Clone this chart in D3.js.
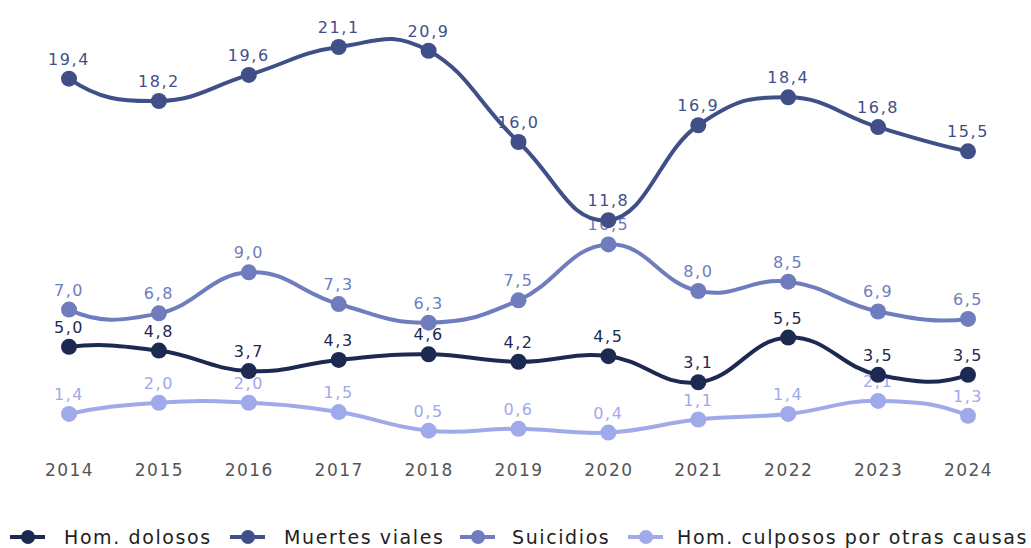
<!DOCTYPE html>
<html>
<head>
<meta charset="utf-8">
<script src="https://cdn.jsdelivr.net/npm/d3@7"></script>
<style>
  body { margin: 0; background: #fff; }
  svg text { font-family: "DejaVu Sans", "Open Sans", sans-serif; }
  .tick-label { fill: #555; font-size: 17px; letter-spacing: 1.5px; }
  .val-label { font-size: 16px; letter-spacing: 1.6px; }
  .legend-label { fill: #222; font-size: 19px; letter-spacing: 1.6px; }
</style>
</head>
<body>
<svg id="chart" width="1031" height="548"></svg>
<script>
var years = [2014, 2015, 2016, 2017, 2018, 2019, 2020, 2021, 2022, 2023, 2024];

var series_names = ["Hom. dolosos", "Muertes viales", "Suicidios", "Hom. culposos por otras causas"];
var dolosos   = [5.0, 4.8, 3.7, 4.3, 4.6, 4.2, 4.5, 3.1, 5.5, 3.5, 3.5];
var viales    = [19.4, 18.2, 19.6, 21.1, 20.9, 16.0, 11.8, 16.9, 18.4, 16.8, 15.5];
var suicidios = [7.0, 6.8, 9.0, 7.3, 6.3, 7.5, 10.5, 8.0, 8.5, 6.9, 6.5];
var culposos  = [1.4, 2.0, 2.0, 1.5, 0.5, 0.6, 0.4, 1.1, 1.4, 2.1, 1.3];
var colors = ["#1c2a52", "#414f88", "#6f7cbd", "#a0a9ea"];

// draw order: back to front
var all_series = [
  {name: series_names[3], values: culposos, color: colors[3]},
  {name: series_names[2], values: suicidios, color: colors[2]},
  {name: series_names[0], values: dolosos, color: colors[0]},
  {name: series_names[1], values: viales, color: colors[1]}
];

var svg = d3.select("#chart");

var x = d3.scalePoint()
    .domain(years)
    .range([69, 968]);

var y = d3.scaleLinear()
    .domain([0, 21.1])
    .range([440, 47]);

var fmt = function(v){ return d3.format(".1f")(v).replace(".", ","); };

// loose smoothed line: catmull-rom tangents (parabolic at the ends),
// a bit longer than usual so the curve swings past the points
var swing = 1.3, end_swing = 1.3;
function curveSmooth(context){
  var pts;
  return {
    areaStart: function(){},
    areaEnd: function(){},
    lineStart: function(){ pts = []; },
    point: function(px, py){ pts.push([+px, +py]); },
    lineEnd: function(){
      var n = pts.length, t = [], i;
      if (!n) return;
      for (i = 1; i < n - 1; i++) {
        t[i] = [swing * (pts[i + 1][0] - pts[i - 1][0]) / 2, swing * (pts[i + 1][1] - pts[i - 1][1]) / 2];
      }
      t[0] = [pts[1][0] - pts[0][0], end_swing * (2 * (pts[1][1] - pts[0][1]) - t[1][1])];
      t[n - 1] = [pts[n - 1][0] - pts[n - 2][0], end_swing * (2 * (pts[n - 1][1] - pts[n - 2][1]) - t[n - 2][1])];
      context.moveTo(pts[0][0], pts[0][1]);
      for (i = 0; i < n - 1; i++) {
        context.bezierCurveTo(
          pts[i][0] + t[i][0] / 3, pts[i][1] + t[i][1] / 3,
          pts[i + 1][0] - t[i + 1][0] / 3, pts[i + 1][1] - t[i + 1][1] / 3,
          pts[i + 1][0], pts[i + 1][1]);
      }
    }
  };
}

var line = d3.line()
    .x(function(d, i){ return x(years[i]); })
    .y(function(d){ return y(d); })
    .curve(curveSmooth);

// the axis labels
var xAxis = svg.append("g")
    .attr("transform", "translate(0,470)")
    .call(d3.axisBottom(x).tickSize(0).tickPadding(0));
xAxis.select(".domain").remove();
xAxis.selectAll("text")
    .attr("class", "tick-label")
    .attr("fill", null)
    .attr("dy", "0.35em")
    .style("font-size", null)
    .style("font-family", null);

// the lines
all_series.forEach(function(s){
  var g = svg.append("g");

  g.append("path")
      .attr("d", line(s.values))
      .attr("fill", "none")
      .attr("stroke", s.color)
      .attr("stroke-width", 4);

  g.selectAll("circle")
      .data(s.values)
    .enter().append("circle")
      .attr("cx", function(d, i){ return x(years[i]); })
      .attr("cy", function(d){ return y(d); })
      .attr("r", 8)
      .attr("fill", s.color);

  g.selectAll(".val-label")
      .data(s.values)
    .enter().append("text")
      .attr("class", "val-label")
      .attr("x", function(d, i){ return x(years[i]); })
      .attr("y", function(d){ return y(d) - 14; })
      .attr("text-anchor", "middle")
      .attr("fill", s.color)
      .text(fmt);
});

// the legend
var legend_x = [10, 230, 460, 628],
    legend_text_x = [64, 284, 512, 677];

var legend = svg.selectAll(".legend")
    .data(series_names)
  .enter().append("g")
    .attr("class", "legend")
    .attr("transform", "translate(0,537)");

legend.append("line")
    .attr("x1", function(d, i){ return legend_x[i]; })
    .attr("x2", function(d, i){ return legend_x[i] + 35; })
    .attr("stroke", function(d, i){ return colors[i]; })
    .attr("stroke-width", 4);

legend.append("circle")
    .attr("cx", function(d, i){ return legend_x[i] + 18; })
    .attr("r", 7)
    .attr("fill", function(d, i){ return colors[i]; });

legend.append("text")
    .attr("class", "legend-label")
    .attr("x", function(d, i){ return legend_text_x[i]; })
    .attr("dy", "0.35em")
    .text(function(d){ return d; });
</script>
</body>
</html>
